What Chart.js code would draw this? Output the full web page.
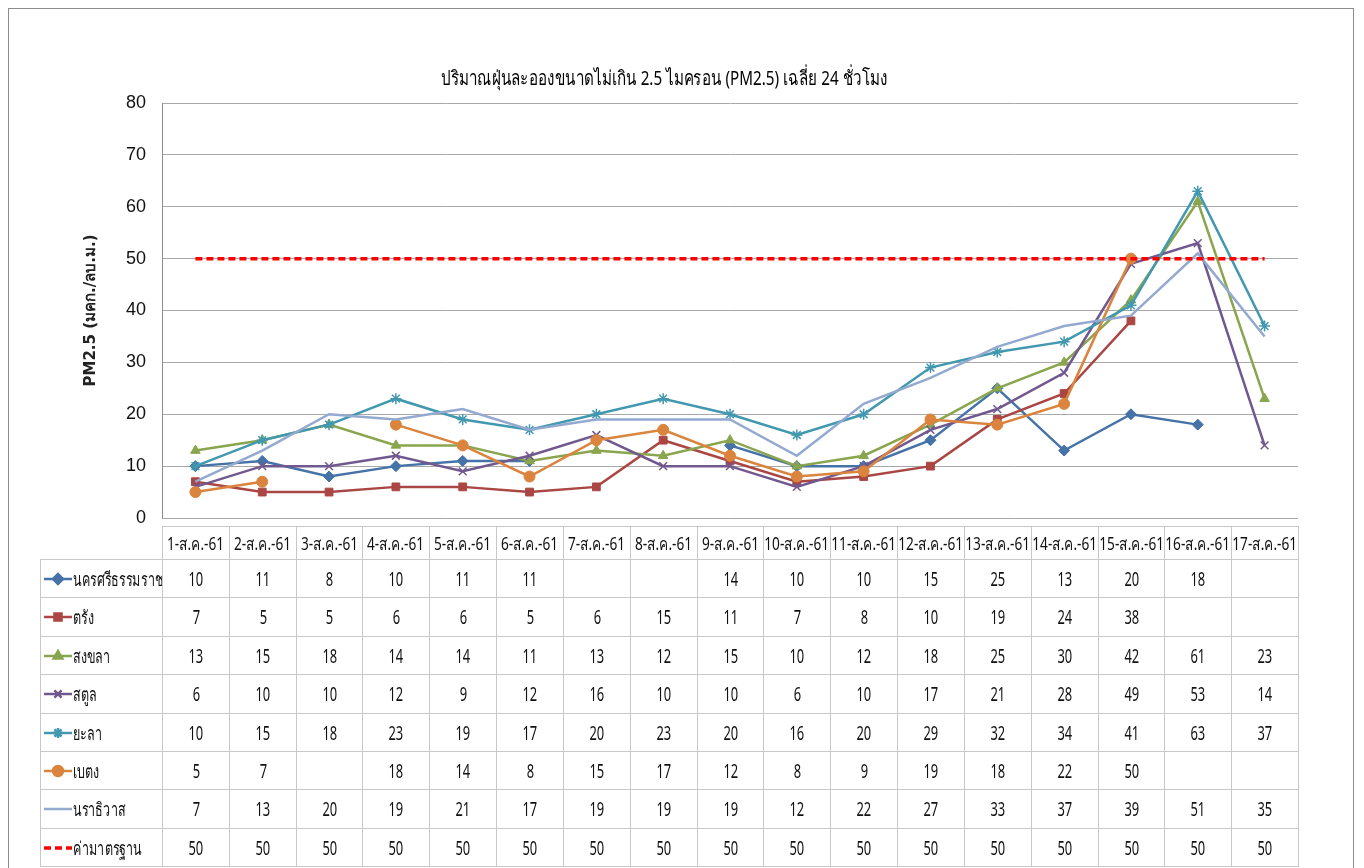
<!DOCTYPE html>
<html><head><meta charset="utf-8">
<script src="https://cdn.jsdelivr.net/npm/chart.js@4"></script>
<style>
html,body{margin:0;padding:0;background:#fff;overflow:hidden}
#wrap{position:relative;width:1364px;height:868px;}
#frame{position:absolute;left:8px;top:8px;width:1346px;height:900px;border:1px solid #8c8c8c;box-sizing:border-box}
#c{position:absolute;left:0;top:0}
.cell{position:absolute;box-sizing:border-box;border:1px solid #c8c8c8;display:flex;align-items:center;justify-content:center;
  font-family:"Noto Sans","DejaVu Sans",sans-serif;font-size:19px;color:#111;white-space:nowrap;overflow:visible}
.cell .t{display:inline-block;transform:scaleX(0.68);transform-origin:50% 50%}
.cell.head{font-size:18px}
.cell.head .t{transform:scaleX(0.76)}
.leg{justify-content:flex-start;padding-left:3px;overflow:hidden;font-size:19px}
.leg .t{transform:scaleX(0.66);transform-origin:0 50%}
.leg canvas{margin-right:1px;flex:none}
</style></head>
<body><div id="wrap"><div id="frame"></div><canvas id="c" width="1364" height="868"></canvas><div id="tbl"></div></div>
<script>
const chartTitle = 'ปริมาณฝุ่นละอองขนาดไม่เกิน 2.5 ไมครอน (PM2.5) เฉลี่ย 24 ชั่วโมง';
const yTitle = 'PM2.5 (มคก./ลบ.ม.)';
const categories = ['1-ส.ค.-61','2-ส.ค.-61','3-ส.ค.-61','4-ส.ค.-61','5-ส.ค.-61','6-ส.ค.-61','7-ส.ค.-61','8-ส.ค.-61','9-ส.ค.-61','10-ส.ค.-61','11-ส.ค.-61','12-ส.ค.-61','13-ส.ค.-61','14-ส.ค.-61','15-ส.ค.-61','16-ส.ค.-61','17-ส.ค.-61'];
const seriesNames = ['นครศรีธรรมราช','ตรัง','สงขลา','สตูล','ยะลา','เบตง','นราธิวาส','ค่ามาตรฐาน'];
const nakhon   = [10,11,8,10,11,11,null,null,14,10,10,15,25,13,20,18,null];
const trang    = [7,5,5,6,6,5,6,15,11,7,8,10,19,24,38,null,null];
const songkhla = [13,15,18,14,14,11,13,12,15,10,12,18,25,30,42,61,23];
const satun    = [6,10,10,12,9,12,16,10,10,6,10,17,21,28,49,53,14];
const yala     = [10,15,18,23,19,17,20,23,20,16,20,29,32,34,41,63,37];
const betong   = [5,7,null,18,14,8,15,17,12,8,9,19,18,22,50,null,null];
const narathiwat = [7,13,20,19,21,17,19,19,19,12,22,27,33,37,39,51,35];
const standard = [50,50,50,50,50,50,50,50,50,50,50,50,50,50,50,50,50];
const yTicks = [0,10,20,30,40,50,60,70,80];

const seriesData = [nakhon,trang,songkhla,satun,yala,betong,narathiwat,standard];
const colors = ['#4572A7','#AA4643','#89A54E','#71588F','#4198AF','#DB843D','#93A9CF','#FF0000'];
const pstyles = ['rectRot','rect','triangle','crossRot','star','circle',false,false];
const pradius = [5.5,5.5,5.5,5.5,5.5,5.5,0,0];

const datasets = seriesData.map((d,i)=>({
  label: seriesNames[i],
  data: d,
  borderColor: colors[i],
  backgroundColor: colors[i],
  pointBorderColor: colors[i],
  pointBackgroundColor: colors[i],
  borderWidth: i===7 ? 3.5 : 2.5,
  borderDash: i===7 ? [7,4] : [],
  pointStyle: pstyles[i] || 'circle',
  pointRadius: pradius[i],
  pointBorderWidth: (pstyles[i]==='crossRot'||pstyles[i]==='star') ? 1.5 : 1,
  spanGaps: false,
  tension: 0,
  order: 20 - i
}));

// Condensed chart title (the original uses a narrow face)
const condensedTitle = {
  id: 'condensedTitle',
  afterDraw(chart, args, opts) {
    const ctx = chart.ctx;
    ctx.save();
    ctx.font = opts.size + 'px ' + opts.family;
    ctx.fillStyle = opts.color;
    ctx.textAlign = 'center';
    ctx.textBaseline = 'middle';
    ctx.translate(opts.x, opts.y);
    ctx.scale(opts.squeeze, 1);
    ctx.fillText(opts.text, 0, 0);
    ctx.restore();
  }
};

const chart = new Chart(document.getElementById('c'), {
  type: 'line',
  data: { labels: categories, datasets },
  plugins: [condensedTitle],
  options: {
    responsive: false,
    animation: false,
    events: [],
    layout: { padding: { top: 103, left: 0, right: 66, bottom: 350 } },
    plugins: {
      legend: { display: false },
      tooltip: { enabled: false },
      title: { display: false },
      condensedTitle: { text: chartTitle, size: 20, family: '"Noto Sans","DejaVu Sans",sans-serif', color: '#000', squeeze: 0.76, x: 664, y: 79 }
    },
    scales: {
      x: { display: false, offset: true },
      y: {
        min: 0, max: 80,
        afterBuildTicks: (s)=>{ s.ticks = yTicks.map(v=>({value:v})); },
        afterFit: (s)=>{ s.width = 162; },
        grid: { color: '#a8a8a8', drawTicks: false, lineWidth: 1 },
        border: { color: '#8c8c8c', width: 1 },
        ticks: { color: '#111', padding: 16, font: { family: '"Liberation Sans","Noto Sans",sans-serif', size: 18 } },
        title: { display: true, text: yTitle, color: '#222', padding: { top: 82, bottom: 0 },
          font: { family: '"DejaVu Sans","Noto Sans",sans-serif', size: 15, weight: 'bold' } }
      }
    }
  }
});

// Data table below the plot, aligned to the x scale
(function(){
  const ca = chart.chartArea;
  const n = categories.length;
  const colW = (ca.right - ca.left) / n;
  const top0 = ca.bottom + 8;
  const headH = 33;
  const rowH = 38.4;
  const legL = 40;
  const tbl = document.getElementById('tbl');
  function txt(s){ const t=document.createElement('span'); t.className='t'; t.textContent=s; return t; }
  function cell(x,y,w,h,content,cls){
    const d = document.createElement('div');
    d.className = 'cell' + (cls ? ' '+cls : '');
    d.style.left = Math.round(x)+'px'; d.style.top = Math.round(y)+'px';
    d.style.width = (Math.round(x+w)-Math.round(x)+1)+'px';
    d.style.height = (Math.round(y+h)-Math.round(y)+1)+'px';
    if (content) (Array.isArray(content)?content:[content]).forEach(c=>d.appendChild(c));
    tbl.appendChild(d); return d;
  }
  categories.forEach((c,j)=>{
    const x = chart.scales.x.getPixelForValue(j) - colW/2;
    cell(x, top0, colW, headH, txt(c), 'head');
  });
  seriesData.forEach((arr,i)=>{
    const y = top0 + headH + i*rowH;
    const cv = document.createElement('canvas');
    cv.width = 28; cv.height = 14;
    const ctx = cv.getContext('2d');
    ctx.strokeStyle = colors[i]; ctx.lineWidth = i===7?3.5:2.5;
    if (i===7) ctx.setLineDash([7,4]);
    ctx.beginPath(); ctx.moveTo(0,7); ctx.lineTo(28,7); ctx.stroke();
    ctx.setLineDash([]);
    if (pstyles[i]) {
      ctx.fillStyle = colors[i];
      Chart.helpers.drawPoint(ctx, {pointStyle: pstyles[i], radius: 5, rotation: 0, borderWidth: 1.5}, 14, 7);
    }
    cell(legL, y, ca.left - legL, rowH, [cv, txt(seriesNames[i])], 'leg');
    arr.forEach((v,j)=>{
      const x = chart.scales.x.getPixelForValue(j) - colW/2;
      cell(x, y, colW, rowH, v===null ? null : txt(String(v)));
    });
  });
})();
</script>
</body></html>
